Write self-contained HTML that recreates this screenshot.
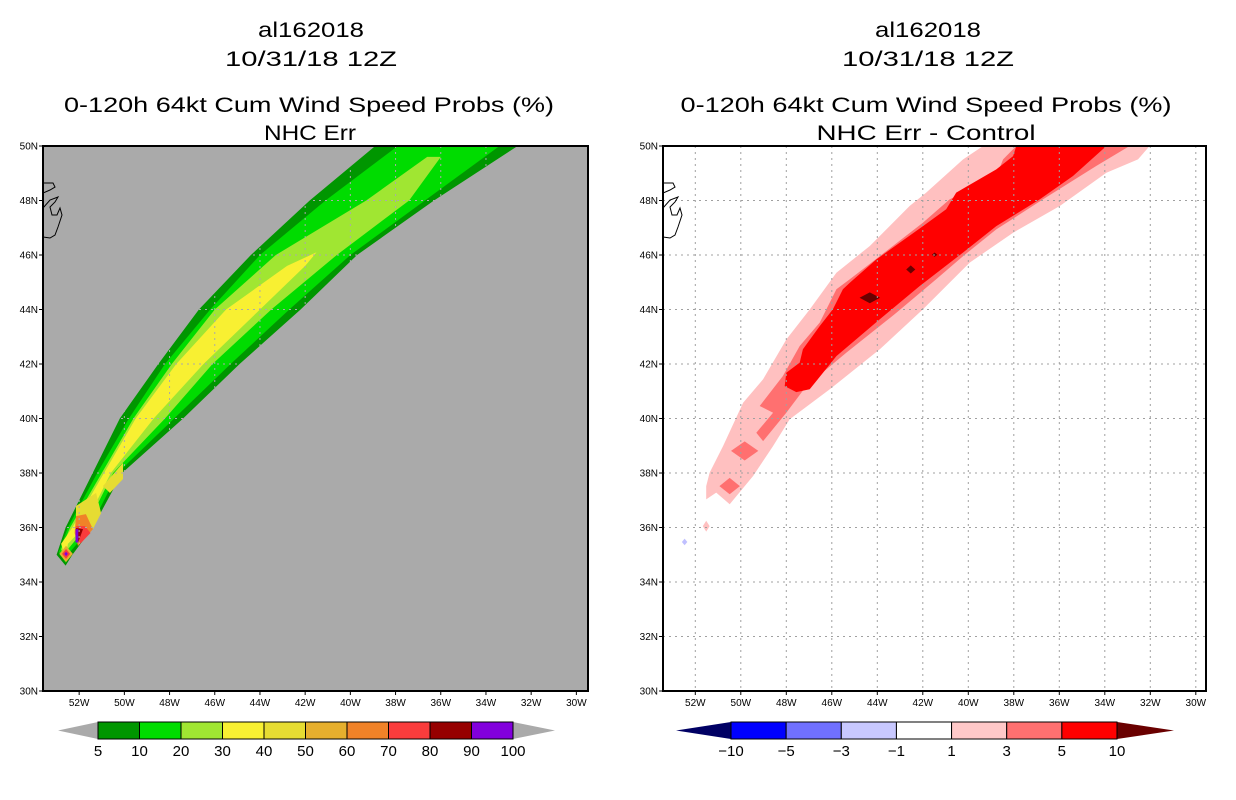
<!DOCTYPE html>
<html><head><meta charset="utf-8">
<style>
html,body{margin:0;padding:0;background:#fff;}
svg{display:block;}
text{font-family:"Liberation Sans",sans-serif;fill:#000;}
</style></head>
<body>
<svg id="chart" width="1236" height="800" viewBox="0 0 1236 800" xmlns="http://www.w3.org/2000/svg">
<defs>
<clipPath id="clipL"><rect x="43" y="146" width="545" height="545"/></clipPath>
<clipPath id="clipR"><rect x="663" y="146" width="543" height="545"/></clipPath>
</defs>
<!-- titles -->
<g font-size="21" text-anchor="middle">
<text x="311" y="37" textLength="106" lengthAdjust="spacingAndGlyphs">al162018</text>
<text x="311" y="66" textLength="172" lengthAdjust="spacingAndGlyphs">10/31/18 12Z</text>
<text x="309" y="112" textLength="490" lengthAdjust="spacingAndGlyphs">0-120h 64kt Cum Wind Speed Probs (%)</text>
<text x="310" y="140" textLength="92" lengthAdjust="spacingAndGlyphs">NHC Err</text>
</g>
<g font-size="21" text-anchor="middle">
<text x="928" y="37" textLength="106" lengthAdjust="spacingAndGlyphs">al162018</text>
<text x="928" y="66" textLength="172" lengthAdjust="spacingAndGlyphs">10/31/18 12Z</text>
<text x="926" y="112" textLength="491" lengthAdjust="spacingAndGlyphs">0-120h 64kt Cum Wind Speed Probs (%)</text>
<text x="926" y="140" textLength="219" lengthAdjust="spacingAndGlyphs">NHC Err - Control</text>
</g>
<rect x="43" y="146" width="545" height="545" fill="#aaaaaa"/>
<rect x="663" y="146" width="543" height="545" fill="#ffffff"/>
<g id="leftPlot" clip-path="url(#clipL)"></g>
<g id="rightPlot" clip-path="url(#clipR)"></g>
<g id="axes"></g>
<g id="bars"></g>
</svg>
<script>
// ---- left panel data: probability contour bands (lat rows, west/east lon edges)
const leftLevels = [5, 10, 20, 30];
const leftColors = ['#009600', '#00dc00', '#a0e632', '#f8f032'];
const lat5 = [34.6, 35, 36, 38, 40, 42, 44, 46, 48, 50];
const west5 = [-52.6, -53.0, -52.6, -51.4, -50.2, -48.5, -46.7, -44.4, -41.8, -38.9];
const east5 = [-52.6, -52.3, -51.4, -50.1, -47.4, -44.9, -42.2, -39.7, -36.3, -32.6];
const lat10 = [34.7, 35.1, 36, 38, 40, 42, 44, 46, 48, 50];
const west10 = [-52.6, -52.9, -52.5, -51.2, -49.8, -48.2, -46.2, -44.0, -41.1, -37.9];
const east10 = [-52.6, -52.4, -51.5, -50.3, -47.8, -45.3, -42.7, -40.0, -36.7, -33.4];
const lat20 = [34.8, 35.2, 36, 38, 40, 42, 44, 46, 48, 49.6];
const west20 = [-52.6, -52.8, -52.4, -51.0, -49.6, -47.9, -46.0, -43.3, -39.3, -36.6];
const east20 = [-52.6, -52.5, -51.7, -50.5, -48.2, -46.1, -43.5, -40.6, -37.4, -36.0];
const lat30 = [34.9, 35.4, 36, 38, 40, 42, 44, 45.6, 46.1];
const west30 = [-52.6, -52.8, -52.3, -50.9, -49.5, -47.7, -45.5, -42.8, -41.5];
const east30 = [-52.6, -52.5, -51.8, -50.6, -48.7, -46.5, -44.0, -42.0, -41.5];
// small high-probability blobs near the start of the track
const blobColors = ['#e6dc32', '#e6dc32', '#f08228', '#fa3c3c', '#960000', '#8200dc'];
const blobLons = [
  [-52.14, -51.25, -51.03, -51.39, -52.14],
  [-50.95, -50.06, -50.06, -50.64],
  [-52.14, -51.7, -51.39, -52.05, -52.2],
  [-52.14, -51.74, -51.5, -51.96],
  [-52.14, -51.83, -52.05],
  [-52.16, -52.04, -52.04, -52.16]
];
const blobLats = [
  [36.79, 37.27, 36.53, 35.94, 35.94],
  [37.52, 38.37, 37.78, 37.27],
  [36.42, 36.49, 35.94, 35.32, 35.8],
  [36.05, 36.05, 35.8, 35.4],
  [35.98, 35.94, 35.43],
  [35.94, 35.94, 35.45, 35.45]
];
const spotLon = [-52.58, -52.58, -52.58];
const spotLat = [35.03, 35.03, 35.03];
const spotSize = [0.3, 0.18, 0.08];
const spotColors = ['#e6af2d', '#fa3c3c', '#8200dc'];

// ---- right panel data: difference contours
const rColors = ['#ffc0c0', '#ff7070', '#ff0000'];
const r1Lon = [-51.52,-51.52,-51.37,-50.78,-49.9,-49.02,-48.0,-46.97,-45.8,-44.33,-42.58,-41.85,-40.23,-39.35,-32.03,-32.54,-33.93,-35.98,-38.03,-39.94,-41.99,-43.89,-46.09,-47.85,-48.58,-49.46,-50.49,-51.08];
const r1Lat = [37.03,37.52,38.01,38.99,40.58,41.44,42.9,44.0,45.35,46.33,47.8,48.29,49.51,50,50,49.51,49.02,47.8,46.82,45.72,44.01,42.54,41.07,39.97,38.99,37.89,36.85,37.28];
const r3Lon = [-49.17,-48.15,-47.41,-46.53,-45.8,-45.21,-43.89,-41.99,-40.82,-38.77,-38.47,-37.89,-32.91,-34.37,-36.72,-38.77,-40.23,-41.41,-43.16,-45.36,-47.12,-48.0,-49.02,-49.32,-48.58];
const r3Lat = [40.46,41.56,42.66,43.52,44.74,45.11,45.96,47.19,48.04,48.9,49.51,50,50,49.27,48.04,46.94,45.96,45.11,43.88,42.42,41.19,40.21,39.17,39.48,40.21];
const r5Lon = [-48.07,-48.0,-47.41,-47.27,-46.53,-45.95,-45.51,-45.21,-44.04,-41.99,-40.97,-40.53,-38.77,-38.03,-37.89,-33.93,-35.4,-36.86,-38.77,-40.23,-42.14,-43.89,-45.8,-46.97,-47.56];
const r5Lat = [41.19,41.68,42.05,42.54,43.39,44.01,44.74,44.98,45.84,47.06,47.68,48.29,49.14,49.63,50,50,48.9,48.04,47.06,46.09,44.86,43.64,42.29,41.07,40.97];
const rSpotLon = [-49.83, -50.49, -44.33, -42.53, -41.48, -51.52, -52.47];
const rSpotLat = [38.81, 37.52, 44.43, 45.47, 46.01, 36.05, 35.47];
const rSpotW = [0.6, 0.45, 0.45, 0.2, 0.12, 0.15, 0.12];
const rSpotH = [0.35, 0.3, 0.2, 0.15, 0.08, 0.2, 0.12];
const rSpotColors = ['#ff7070','#ff7070','#6a0000','#6a0000','#6a0000','#ffc0c0','#c0c0ff'];

// ---- axis tick labels
const lonTicks = [-52,-50,-48,-46,-44,-42,-40,-38,-36,-34,-32,-30];
const latTicks = [30,32,34,36,38,40,42,44,46,48,50];
// ---- colorbars
const leftBarLabels = ['5','10','20','30','40','50','60','70','80','90','100'];
const leftBarColors = ['#009600','#00dc00','#a0e632','#f8f032','#e6dc32','#e6af2d','#f08228','#fa3c3c','#960000','#8200dc'];
const rightBarLabels = ['-10','-5','-3','-1','1','3','5','10'];
const rightBarColors = ['#0000ff','#7070ff','#c8c8ff','#ffffff','#ffc8c8','#ff7070','#ff0000'];

const NS = 'http://www.w3.org/2000/svg';
function mk(tag, attrs, parent) {
  const e = document.createElementNS(NS, tag);
  for (const k in attrs) e.setAttribute(k, attrs[k]);
  parent.appendChild(e);
  return e;
}
// axis functions
const xL = lon => 43 + (lon + 53.6) * 22.6;
const yL = lat => 146 + (50 - lat) * 27.25;
const xR = lon => 695.3 + (lon + 52) * 22.75;
const yR = lat => 146 + (50 - lat) * 27.25;

const lp = document.getElementById('leftPlot');
const rp = document.getElementById('rightPlot');
const axes = document.getElementById('axes');
const bars = document.getElementById('bars');

function bandPoints(lats, ws, es) {
  const pts = [];
  for (let i = 0; i < lats.length; i++) pts.push(xL(ws[i]).toFixed(1) + ',' + yL(lats[i]).toFixed(1));
  for (let i = lats.length - 1; i >= 0; i--) pts.push(xL(es[i]).toFixed(1) + ',' + yL(lats[i]).toFixed(1));
  return pts.join(' ');
}
const bands = [[lat5, west5, east5], [lat10, west10, east10], [lat20, west20, east20], [lat30, west30, east30]];
bands.forEach((b, i) => {
  const p = mk('polygon', {points: bandPoints(b[0], b[1], b[2]), fill: leftColors[i]}, lp);
  
  
});
blobLons.forEach((lons, i) => {
  const pts = lons.map((lo, j) => xL(lo).toFixed(1) + ',' + yL(blobLats[i][j]).toFixed(1)).join(' ');
  const p = mk('polygon', {points: pts, fill: blobColors[i]}, lp);
  
  
});
spotLon.forEach((lo, i) => {
  const cx = xL(lo), cy = yL(spotLat[i]), dx = spotSize[i] * 22.6, dy = spotSize[i] * 27.25;
  const p = mk('polygon', {points: `${cx-dx},${cy} ${cx},${cy-dy} ${cx+dx},${cy} ${cx},${cy+dy}`, fill: spotColors[i]}, lp);
  
  
});

function polyR(lons, lats) {
  return lons.map((lo, j) => xR(lo).toFixed(1) + ',' + yR(lats[j]).toFixed(1)).join(' ');
}
[[r1Lon, r1Lat], [r3Lon, r3Lat], [r5Lon, r5Lat]].forEach((d, i) => {
  const p = mk('polygon', {points: polyR(d[0], d[1]), fill: rColors[i]}, rp);
  
  
});
rSpotLon.forEach((lo, i) => {
  const cx = xR(lo), cy = yR(rSpotLat[i]), dx = rSpotW[i] * 22.75, dy = rSpotH[i] * 27.25;
  const p = mk('polygon', {points: `${cx-dx},${cy} ${cx},${cy-dy} ${cx+dx},${cy} ${cx},${cy+dy}`, fill: rSpotColors[i]}, rp);
  
  
});

// grids, coastlines, frames, ticks
function panel(g, xf, yf, x0, w, gridCol, prefix) {
  lonTicks.forEach(lo => {
    const x = xf(lo);
    if (x > x0 + 1 && x < x0 + w - 1) {
      const l = mk('line', {x1: x, y1: 146, x2: x, y2: 691, stroke: gridCol, 'stroke-width': 1, 'stroke-dasharray': '2,4'}, g);
      
      
    }
  });
  latTicks.forEach(la => {
    const y = yf(la);
    if (y > 147 && y < 690) {
      const l = mk('line', {x1: x0, y1: y, x2: x0 + w, y2: y, stroke: gridCol, 'stroke-width': 1, 'stroke-dasharray': '2,4'}, g);
      
      
    }
  });
  const coast = mk('path', {d: `M${x0},183 L${x0+10},183 L${x0+12},187 L${x0+7},190 L${x0},193 M${x0},208 L${x0+7},200 L${x0+15},197 L${x0+12},202 L${x0+7},207 L${x0+9},215 L${x0+14},215 L${x0+17},208 L${x0+19},215 L${x0+15},227 L${x0+12},235 L${x0+7},238 L${x0},237`, fill: 'none', stroke: '#000', 'stroke-width': 1}, g);
  
  
}
panel(lp, xL, yL, 43, 545, '#aaaaaa', 'left');
panel(rp, xR, yR, 663, 543, '#a0a0a0', 'right');

function frame(xf, x0, w, prefix) {
  const f = mk('rect', {x: x0, y: 146, width: w, height: 545, fill: 'none', stroke: '#000', 'stroke-width': 2}, axes);
  
  
  lonTicks.forEach(lo => {
    const x = xf(lo);
    const tk = mk('line', {x1: x, y1: 691, x2: x, y2: 695, stroke: '#000'}, axes);
    
    
    const t = mk('text', {x: x, y: 706, 'font-size': 10, 'text-anchor': 'middle'}, axes);
    t.textContent = Math.abs(lo) + 'W';
    
    
  });
  latTicks.forEach(la => {
    const y = yL(la);
    const tk = mk('line', {x1: x0 - 4, y1: y, x2: x0, y2: y, stroke: '#000'}, axes);
    
    
    const t = mk('text', {x: x0 - 5, y: y + 3.5, 'font-size': 10, 'text-anchor': 'end'}, axes);
    t.textContent = la + 'N';
    
    
  });
}
frame(xL, 43, 545, 'left');
frame(xR, 663, 543, 'right');

// colorbars
function colorbar(x0, x1, tl, tr, colors, labels, leftTri, rightTri, prefix) {
  const y0 = 722, y1 = 739, ym = (y0 + y1) / 2;
  const bw = (x1 - x0) / colors.length;
  const a = mk('polygon', {points: `${tl},${ym} ${x0},${y0} ${x0},${y1}`, fill: leftTri}, bars);
  
  
  const b = mk('polygon', {points: `${tr},${ym} ${x1},${y0} ${x1},${y1}`, fill: rightTri}, bars);
  
  
  colors.forEach((c, i) => {
    const r = mk('rect', {x: x0 + i * bw, y: y0, width: bw, height: y1 - y0, fill: c, stroke: '#000', 'stroke-width': 1}, bars);
    
    
  });
  labels.forEach((l, i) => {
    const t = mk('text', {x: x0 + i * bw, y: 756, 'font-size': 15, 'text-anchor': 'middle'}, bars);
    t.textContent = l.replace('-', '\u2212');
    
    
  });
}
colorbar(98, 513, 58, 555, leftBarColors, leftBarLabels, '#aaaaaa', '#aaaaaa', 'left');
colorbar(731, 1117, 676, 1174, rightBarColors, rightBarLabels, '#000064', '#6a0000', 'right');
</script>
</body></html>
